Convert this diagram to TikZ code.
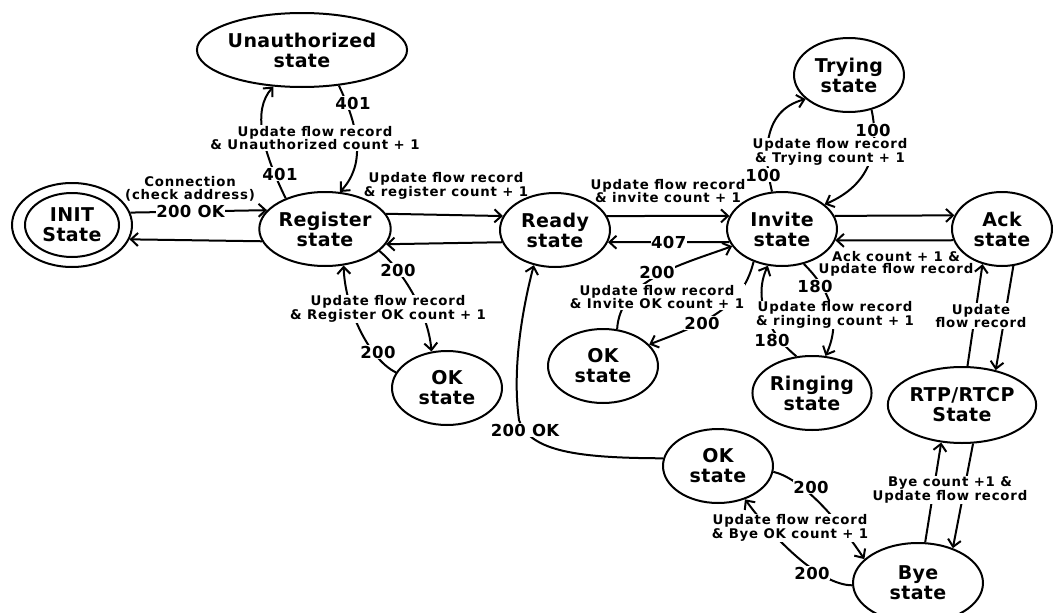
\documentclass[tikz,border=0pt]{standalone}
\usepackage{fontspec}
\setmainfont{DejaVu Sans}
\newfontfamily\stfam{DejaVu Sans}[LetterSpace=2]
\newfontfamily\labfam{DejaVu Sans}[LetterSpace=6]
\usetikzlibrary{shapes.geometric,arrows.meta}
\tikzset{
  st/.style={ellipse, draw, line width=2pt, inner sep=0pt, align=center,
    font=\stfam\bfseries\fontsize{19}{20}\selectfont},
  arr/.style={line width=2pt, -{Straight Barb[length=7pt,width=13pt]}},
  lab/.style={align=center, inner sep=0.5pt,
    font=\labfam\bfseries\fontsize{13.3}{12.5}\selectfont},
  labw/.style={lab, fill=white},
  num/.style={fill=white, inner sep=0.5pt,
    font=\stfam\bfseries\fontsize{16.5}{17}\selectfont},
}
\begin{document}
\begin{tikzpicture}[x=1pt,y=-1pt]
\useasboundingbox (0,0) rectangle (1053,613);
% states
\node[st, minimum width=120pt, minimum height=84pt] (init) at (72,225) {};
\node[st, minimum width=94pt, minimum height=64pt] (initin) at (72,225) {INIT\\State};
\node[st, minimum width=160pt, minimum height=74pt] (unauth) at (302,50) {Unauthorized\\state};
\node[st, minimum width=110pt, minimum height=74pt] (reg) at (325,229) {Register\\state};
\node[st, minimum width=110pt, minimum height=74pt] (ready) at (555,230) {Ready\\state};
\node[st, minimum width=110pt, minimum height=74pt] (invite) at (782,229) {Invite\\state};
\node[st, minimum width=110pt, minimum height=74pt] (trying) at (849,75) {Trying\\state};
\node[st, minimum width=100pt, minimum height=74pt] (ack) at (1002,229) {Ack\\state};
\node[st, minimum width=110pt, minimum height=74pt] (okreg) at (447,388) {OK\\state};
\node[st, minimum width=110pt, minimum height=74pt] (okinv) at (603,366) {OK\\state};
\node[st, minimum width=110pt, minimum height=74pt] (ringing) at (812,393) {Ringing\\state};
\node[st, minimum width=130pt, minimum height=76pt] (rtp) at (962,405) {RTP/RTCP\\State};
\node[st, minimum width=110pt, minimum height=74pt] (okbye) at (718,466) {OK\\state};
\node[st, minimum width=130pt, minimum height=80pt] (bye) at (918,583) {Bye\\state};
% straight connectors
\draw[arr] (init.12) -- node[num, pos=0.44] (n200ok1) {200 OK} (reg.162);
\draw[arr] (reg.191) -- (init.346);
\draw[arr] (reg.14) -- (ready.165);
\draw[arr] (ready.193) -- (reg.346);
\draw[arr] (ready.15) -- (invite.166);
\draw[arr] (invite.194) -- node[num] (n407) {407} (ready.347);
\draw[arr] (invite.14) -- (ack.164);
\draw[arr] (ack.193) -- (invite.348);
% curved connectors
\draw[arr] (reg.142) .. controls (262,150) and (252,110) .. (unauth.232);
\draw[arr] (unauth.316) .. controls (360,130) and (365,165) .. (reg.68);
\draw[arr] (reg.338) .. controls (400,268) and (428,310) .. (okreg.113);
\draw[arr] (okreg.163) .. controls (370,360) and (345,310) .. (reg.297);
\draw[arr] (okbye.172) .. controls (580,458) and (530,452) .. (519,420) .. controls (512,370) and (522,310) .. (ready.239);
\draw[arr] (invite.105) .. controls (762,150) and (765,110) .. (trying.209);
\draw[arr] (trying.303) .. controls (880,150) and (870,185) .. (invite.30);
\draw[arr] (okinv.69) .. controls (620,280) and (680,265) .. (invite.199);
\draw[arr] (invite.229) .. controls (742,310) and (700,325) .. (okinv.25);
\draw[arr] (ringing.113) .. controls (770,335) and (752,300) .. (invite.249);
\draw[arr] (invite.302) .. controls (830,290) and (842,320) .. (ringing.70);
\draw[arr] (rtp.82) -- (ack.241);
\draw[arr] (ack.287) -- (rtp.46);
\draw[arr] (bye.80) -- (rtp.241);
\draw[arr] (rtp.286) -- (bye.45);
\draw[arr] (okbye.354) .. controls (800,478) and (835,515) .. (bye.156);
\draw[arr] (bye.182) .. controls (820,585) and (775,540) .. (okbye.309);
% labels
\node[lab] (lconn) at (190,189) {Connection\\(check address)};
\node[labw] (lunauth) at (315,138) {Update flow record\\\& Unauthorized count + 1};
\node[num] (n401a) at (280,174) {401};
\node[num] (n401b) at (353,103) {401};
\node[lab] (lregc) at (446,186) {Update flow record\\\& register count + 1};
\node[lab] (linvc) at (668,191) {Update flow record\\\& invite count + 1};
\node[labw] (ltry) at (830,152) {Update flow record\\\& Trying count + 1};
\node[num] (n100a) at (763,175) {100};
\node[num] (n100b) at (873,130) {100};
\node[lab] (lack) at (896,264) {Ack count + 1 \&\\Update flow record};
\node[labw] (lregok) at (388,309) {Update flow record\\\& Register OK count + 1};
\node[num] (n200a) at (398,270) {200};
\node[num] (n200b) at (378,352) {200};
\node[labw] (linvok) at (657,297) {Update flow record\\\& Invite OK count + 1};
\node[num] (n200c) at (657,272) {200};
\node[num] (n200d) at (702,323) {200};
\node[labw] (lring) at (835,315) {Update flow record\\\& ringing count + 1};
\node[num] (n180a) at (815,286) {180};
\node[num] (n180b) at (772,340) {180};
\node[labw] (lackrtp) at (981,316) {Update\\flow record};
\node[labw] (lbye) at (950,490) {Bye count +1 \&\\Update flow record};
\node[num] (n200ok2) at (525,430) {200 OK};
\node[labw] (lbyeok) at (790,528) {Update flow record\\\& Bye OK count + 1};
\node[num] (n200e) at (811,487) {200};
\node[num] (n200f) at (812,573) {200};
\end{tikzpicture}
\end{document}
